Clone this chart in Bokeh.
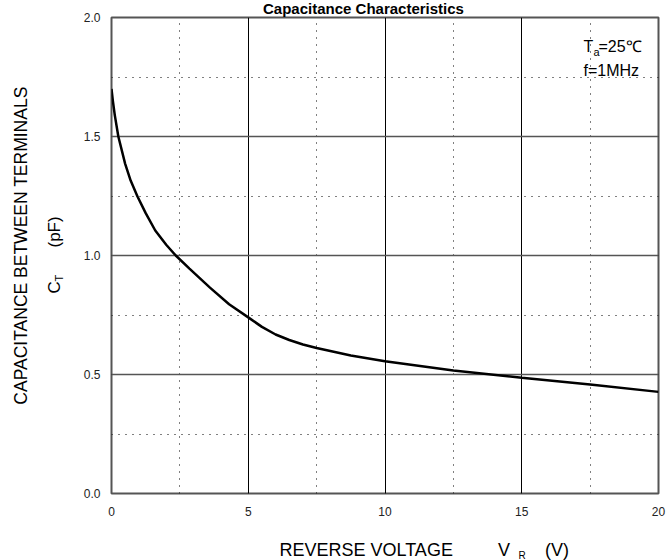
import math
from bokeh.plotting import figure
from bokeh.models import Label, SingleIntervalTicker, Range1d, ColumnDataSource, PrintfTickFormatter
from bokeh.embed import file_html
from bokeh.resources import INLINE

# ---- data ----
voltage = [0.0, 0.05, 0.12, 0.25, 0.5, 0.7, 0.95, 1.25, 1.6, 2.0, 2.35, 2.85, 3.6, 4.3, 5.0,
           5.5, 6.0, 6.5, 7.0, 7.5, 8.75, 10.0, 12.5, 15.0, 17.5, 20.0]
capacitance = [1.70, 1.65, 1.59, 1.50, 1.385, 1.315, 1.248, 1.178, 1.105, 1.045, 1.0, 0.945,
               0.865, 0.795, 0.740, 0.700, 0.668, 0.645, 0.626, 0.611, 0.580, 0.556, 0.517,
               0.486, 0.458, 0.427]
x_ticks = [0, 5, 10, 15, 20]
y_ticks = [0.0, 0.5, 1.0, 1.5, 2.0]

title_text = "Capacitance Characteristics"
NB = "\u00a0"
x_label = "REVERSE VOLTAGE" + NB * 9 + "V" + NB * 7 + "(V)"
y_label = "CAPACITANCE BETWEEN TERMINALS"

FONT = "Liberation Sans"
W, H = 666, 560
BL, BR, BT, BB = 111, 8, 17, 67
FW, FH = W - BL - BR, H - BT - BB

p = figure(width=W, height=H, output_backend="svg", toolbar_location=None,
           x_range=Range1d(x_ticks[0], x_ticks[-1]), y_range=Range1d(y_ticks[0], y_ticks[-1]),
           min_border_left=BL, min_border_right=BR, min_border_top=BT, min_border_bottom=BB)
p.background_fill_color = "white"
p.border_fill_color = "white"
p.outline_line_color = "#555555"
p.outline_line_width = 2

p.xaxis.ticker = SingleIntervalTicker(interval=5, num_minor_ticks=2)
p.yaxis.ticker = SingleIntervalTicker(interval=0.5, num_minor_ticks=2)
p.yaxis.formatter = PrintfTickFormatter(format="%.1f")
for ax in (p.xaxis, p.yaxis):
    ax.axis_line_color = None
    ax.major_tick_line_color = None
    ax.minor_tick_line_color = None
    ax.major_tick_in = 0
    ax.major_tick_out = 0
    ax.major_label_text_font = FONT
    ax.major_label_text_font_size = "12px"
    ax.major_label_text_color = "#222222"
p.xaxis.major_label_standoff = 9
p.yaxis.major_label_standoff = 7

p.xgrid.grid_line_color = "black"
p.xgrid.grid_line_width = 1
p.ygrid.grid_line_color = "#555555"
p.ygrid.grid_line_width = 1.5
for g in (p.xgrid, p.ygrid):
    g.minor_grid_line_color = "black"
    g.minor_grid_line_width = 1
    g.minor_grid_line_dash = "1 6"

src = ColumnDataSource(dict(v=voltage, c=capacitance))
p.line("v", "c", source=src, line_color="black", line_width=2.5)

x0, x1 = x_ticks[0], x_ticks[-1]
y0, y1 = y_ticks[0], y_ticks[-1]

def lab(text, px, py, size="17px", align="left", angle=0.0, bold=False, place=None):
    # px, py: canvas pixel position of the text anchor (vertical middle of the text)
    dx = x0 + (px - BL) / FW * (x1 - x0)
    dy = y0 + (BT + FH - py) / FH * (y1 - y0)
    lbl = Label(x=dx, y=dy, text=text,
                text_font=FONT, text_font_size=size, text_align=align,
                text_baseline="middle", angle=angle, text_color="black",
                text_font_style="bold" if bold else "normal")
    if place is None:
        p.add_layout(lbl)
    else:
        p.add_layout(lbl, place)

# title
lab(title_text, 363, 8, size="15px", align="center", bold=True, place="above")

# x-axis label (one line plus the subscript)
lab(x_label, 279, 549, size="18px", place="below")
lab("R", 518, 555, size="10px", place="below")

# y-axis label (two rotated lines)
lab(y_label, 20, 245, size="17.5px", align="center", angle=math.pi / 2, place="left")
lab("C", 53.5, 293, angle=math.pi / 2, place="left")
lab("T", 58, 281, size="11px", angle=math.pi / 2, place="left")
lab("(pF)", 54, 247, angle=math.pi / 2, place="left")

# conditions
lab("T", 583, 45.5, size="16px")
lab("a", 593, 51, size="11px")
lab("=25\u2103", 598, 45.5, size="16px")
lab("f=1MHz", 583, 70, size="16px")

open("out.html", "w").write(file_html(p, INLINE))
